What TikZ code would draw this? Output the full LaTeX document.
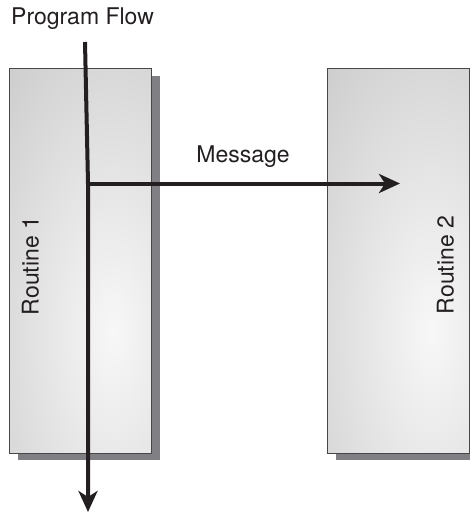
\documentclass[tikz,border=0pt]{standalone}
\usepackage{fontspec}
\setmainfont{TeX Gyre Heros}
\usetikzlibrary{arrows.meta,shadows}

% plain radial glow, light in the middle, grey towards the rim
\pgfdeclareradialshading{glow}{\pgfpoint{0bp}{0bp}}{%
  color(0bp)=(black!3);
  color(50bp)=(black!30);
  color(75bp)=(black!43)}

\definecolor{ink}{HTML}{231F20}
\definecolor{shadowgray}{HTML}{808084}

\tikzset{
  routine/.style={draw=black!72, line width=1pt, fill=black!25,
    minimum width=142pt, minimum height=384pt, inner sep=0pt,
    general shadow={fill=shadowgray, shadow xshift=8.5pt, shadow yshift=-7pt},
    % bright spot a little right of and below the middle
    path picture={
      \shade[shading=glow, shift={(path picture bounding box.center)}]
        (-97,-220) rectangle (163,364);
    }},
  label/.style={text=ink, inner sep=0pt, font=\fontsize{23}{27}\selectfont},
  flow/.style={draw=ink, line width=4pt,
    -{Stealth[length=21pt, width=19pt, inset=6pt]}},
}

\begin{document}
\begin{tikzpicture}[x=1pt, y=-1pt]
  \useasboundingbox (0,0) rectangle (470,513);

  % the two routines
  \node[routine] (r1) at (80,261) {};
  \node[routine] (r2) at (398.5,261) {};

  % labels
  \node[label, anchor=base west] (flowlabel) at (11,25) {Program Flow};
  \node[label, anchor=base] (msglabel) at (243,162) {Message};
  \node[label, rotate=90, anchor=base] (r1label) at (38.5,266) {Routine 1};
  \node[label, rotate=90, anchor=base] (r2label) at (453.5,265) {Routine 2};

  % program flow and the message branch
  \coordinate (flowtop) at (85,42);
  \coordinate (split) at (88,183.5);
  \coordinate (flowend) at (88,512);
  \coordinate (msgend) at (400,183.5);

  \draw[flow] (flowtop) -- (split) -- (flowend);
  \draw[flow] (split) -- (msgend);
\end{tikzpicture}
\end{document}
